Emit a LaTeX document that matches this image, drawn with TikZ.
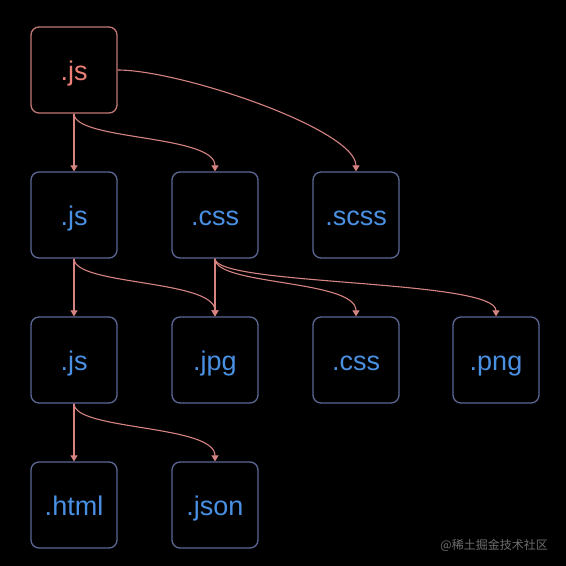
\documentclass[tikz,border=0pt]{standalone}
\usepackage{fontspec}
\setmainfont{Liberation Sans}
\newfontfamily\cjkfont{Noto Sans CJK SC}
\usetikzlibrary{arrows.meta}
\definecolor{bluetext}{RGB}{74,144,226}
\definecolor{blueborder}{RGB}{92,104,150}
\definecolor{redtext}{RGB}{236,128,118}
\definecolor{redborder}{RGB}{196,120,118}
\definecolor{edgecol}{RGB}{214,132,130}
\definecolor{wmark}{RGB}{110,110,110}
\tikzset{
  filebox/.style={draw=blueborder, line width=1.3pt, rounded corners=8pt,
    minimum width=86pt, minimum height=86pt, inner sep=0pt,
    text height=25pt, text depth=4pt,
    text=bluetext, font=\fontsize{27}{30}\selectfont},
  rootbox/.style={filebox, draw=redborder, text=redtext},
  edge/.style={draw=edgecol, line width=1.1pt,
    -{Triangle[width=7pt,length=6pt]}},
}
\begin{document}
\begin{tikzpicture}[x=1pt, y=-1pt]
\useasboundingbox[fill=black] (0,0) rectangle (566,566);
\node[rootbox] (r) at (74,70) {.js};
\node[filebox] (js2) at (74,215) {.js};
\node[filebox] (css2) at (215,215) {.css};
\node[filebox] (scss) at (356,215) {.scss};
\node[filebox] (js3) at (74,360) {.js};
\node[filebox] (jpg) at (215,360) {.jpg};
\node[filebox] (css3) at (356,360) {.css};
\node[filebox] (png) at (496,360) {.png};
\node[filebox] (html) at (74,505) {.html};
\node[filebox] (json) at (215,505) {.json};
\node[text=wmark, anchor=east, inner sep=0pt, font=\cjkfont\fontsize{12}{14}\selectfont] (wm) at (548,545) {@稀土掘金技术社区};

\draw[edge] (r.south) -- (js2.north);
\draw[edge] (r.south) .. controls +(0,27) and +(0,-37) .. (css2.north);
\draw[edge] (r.east) .. controls +(63,0) and +(0,-42) .. (scss.north);

\draw[edge] (js2.south) -- (js3.north);
\draw[edge] (js2.south) .. controls +(0,27) and +(0,-37) .. (jpg.north);

\draw[edge] (css2.south) -- (jpg.north);
\draw[edge] (css2.south) .. controls +(0,27) and +(0,-37) .. (css3.north);
\draw[edge] (css2.south) .. controls +(0,27) and +(0,-37) .. (png.north);

\draw[edge] (js3.south) -- (html.north);
\draw[edge] (js3.south) .. controls +(0,27) and +(0,-37) .. (json.north);
\end{tikzpicture}
\end{document}
